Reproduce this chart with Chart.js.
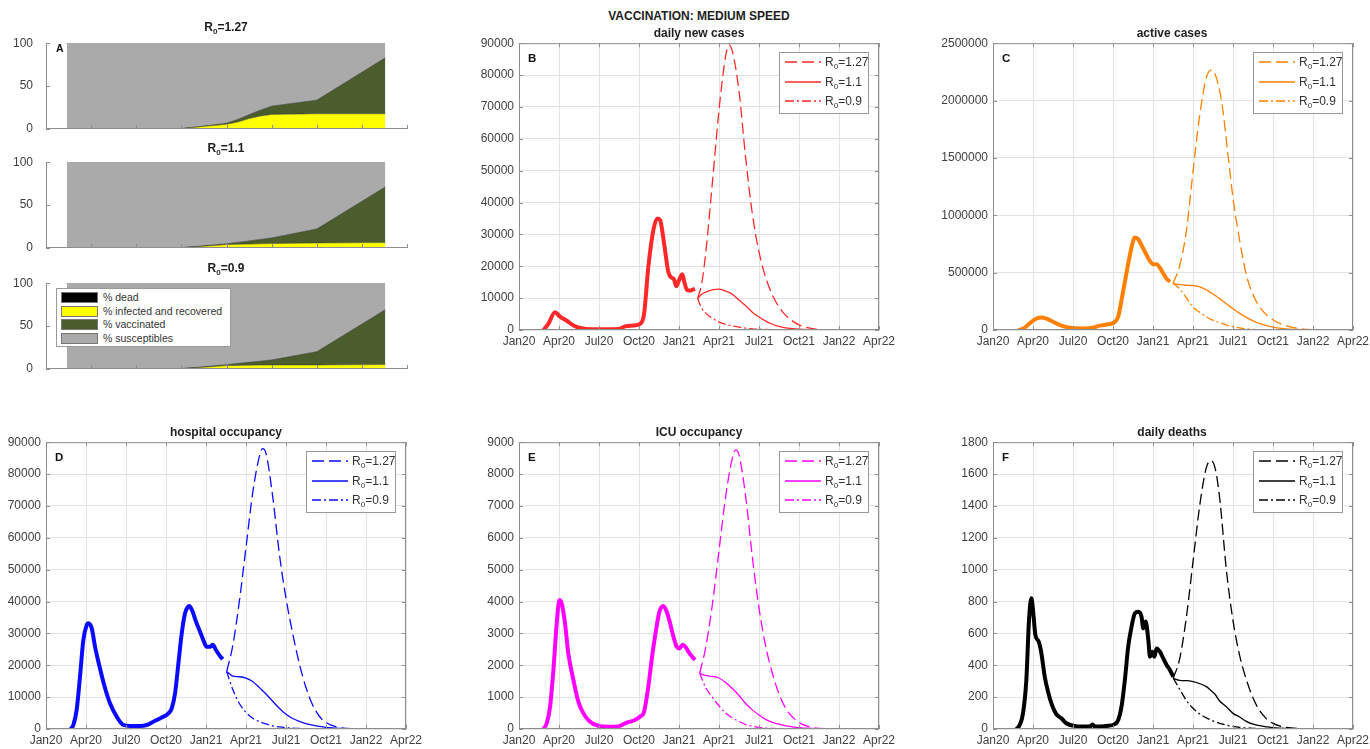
<!DOCTYPE html>
<html>
<head>
<meta charset="utf-8">
<title>Vaccination: medium speed</title>
<script src="https://cdn.jsdelivr.net/npm/chart.js@4.4.1/dist/chart.umd.min.js"></script>
<style>
  html, body { margin: 0; padding: 0; background: #fff; }
  #page { position: relative; width: 1370px; height: 749px; overflow: hidden;
          font-family: "Liberation Sans", Arial, sans-serif; color: #222; }
  canvas { position: absolute; }
  .ttl { position: absolute; transform: translateX(-50%); font-weight: bold; font-size: 12px;
         line-height: 14px; white-space: nowrap; color: #1e1e1e; }
  .tag { position: absolute; font-weight: bold; font-size: 11.5px; line-height: 12px; color: #111; }
  sub { font-size: 8px; vertical-align: -3px; line-height: 0; }
  .lgd { position: absolute; width: 88px; height: 60px; border: 1px solid #9a9a9a; background: #fff; }
  .lgd .row { position: absolute; left: 5px; height: 14px; display: flex; align-items: center;
              font-size: 12px; color: #333; white-space: nowrap; }
  .lgd svg { margin-right: 4px; }
  .alg { position: absolute; left: 56px; top: 288px; width: 173px; height: 57px;
         border: 1px solid #9a9a9a; background: #fff; }
  .alg .row { position: absolute; left: 4px; height: 12px; display: flex; align-items: center;
              font-size: 10.5px; color: #333; white-space: nowrap; }
  .alg .sw { width: 35px; height: 9px; border: 1px solid #777; margin-right: 5px; }
</style>
</head>
<body>
<div id="page"></div>
<script>
// ---- shared labels ----
const monthTicks = ['Jan20', 'Apr20', 'Jul20', 'Oct20', 'Jan21', 'Apr21', 'Jul21', 'Oct21', 'Jan22', 'Apr22'];
const r0Labels = ['1.27', '1.1', '0.9'];
const shareLabels = ['% dead', '% infected and recovered', '% vaccinated', '% susceptibles'];

// ---- A: population shares (%), x in plot units ----
const shareX = [0.46, 1, 2, 3, 3.5, 4, 4.25, 4.5, 4.75, 5, 6, 7.52];
const deadA1 = [0, 0.05, 0.1, 0.1, 0.1, 0.15, 0.15, 0.15, 0.2, 0.2, 0.2, 0.2];
const infA1  = [0, 0, 0.1, 0.3, 3, 5.3, 8, 12, 15, 16.8, 17.6, 17.6];
const vacA1  = [0, 0, 0, 0, 0.3, 1.2, 3, 4.6, 6.7, 9.6, 15.8, 65.2];
const susA1  = [100, 99.95, 99.8, 99.6, 96.6, 93.35, 88.85, 83.25, 78.1, 73.4, 66.4, 17.0];
const deadA2 = [0, 0.05, 0.1, 0.1, 0.1, 0.12, 0.12, 0.12, 0.13, 0.13, 0.14, 0.14];
const infA2  = [0, 0, 0.05, 0.2, 2, 3.9, 4.2, 4.5, 4.8, 5, 5.8, 6.2];
const vacA2  = [0, 0, 0, 0.2, 0.5, 0.8, 2.2, 3.6, 5.0, 6.6, 16.2, 64.8];
const susA2  = [100, 99.95, 99.85, 99.5, 97.4, 95.18, 93.48, 91.78, 90.07, 88.27, 77.86, 28.86];
const deadA3 = [0, 0.05, 0.1, 0.1, 0.1, 0.12, 0.12, 0.12, 0.12, 0.12, 0.12, 0.12];
const infA3  = [0, 0, 0.05, 0.2, 2, 3.9, 4.1, 4.3, 4.5, 4.6, 4.6, 5];
const vacA3  = [0, 0, 0, 0.2, 0.5, 1.0, 2.2, 3.35, 4.5, 5.8, 15.4, 64];
const susA3  = [100, 99.95, 99.85, 99.5, 97.4, 94.98, 93.58, 92.23, 90.88, 89.48, 79.88, 30.88];

// ---- B: daily new cases (x = months since Jan 2020) ----
const newHistX = [1.83, 2.2, 2.7, 3.07, 3.58, 4.08, 4.58, 5.58, 6.58, 7.58, 7.95, 8.58, 9.08, 9.38, 9.7, 10.08, 10.38, 10.58, 10.88, 11.2, 11.45, 11.6, 11.8, 12.0, 12.25, 12.4, 12.6, 12.8, 13.0, 13.2];
const newHistY = [0, 1900, 5600, 4200, 2900, 1400, 630, 200, 200, 400, 1150, 1400, 1900, 5000, 19800, 31400, 35000, 34500, 27200, 18200, 16400, 16100, 13700, 15600, 17500, 15000, 12600, 12400, 12600, 12900];
const newProjX = [13.4, 13.7, 14.0, 14.5, 15.0, 15.5, 15.75, 16.0, 16.5, 17.0, 17.5, 18.0, 18.5, 19.0, 19.5, 20.0, 21.0, 22.0, 23.0, 25.0];
const newR127 = [9900, 14500, 24000, 46000, 69000, 86000, 89500, 87500, 75000, 54000, 36500, 24500, 16500, 11000, 7200, 4600, 1600, 400, 100, 0];
const newR11  = [9900, 11200, 11900, 12600, 12800, 12200, 11800, 11200, 9400, 7600, 5600, 4100, 2800, 1800, 1100, 700, 250, 100, 50, 0];
const newR09  = [9900, 6800, 5300, 3700, 2500, 1800, 1500, 1250, 900, 600, 380, 250, 150, 100, 60, 40, 10, 0, 0, 0];

// ---- C: active cases ----
const actHistX = [1.88, 2.25, 2.75, 3.26, 3.63, 4.0, 4.5, 5.13, 5.76, 6.76, 7.5, 8.0, 8.64, 9.07, 9.39, 9.64, 10.0, 10.4, 10.64, 10.9, 11.14, 11.4, 11.72, 12.02, 12.27, 12.5, 12.77, 13.0, 13.27];
const actHistY = [0, 10000, 58000, 100000, 110000, 100000, 72000, 38000, 20000, 14000, 20000, 38000, 50000, 64000, 116000, 260000, 490000, 725000, 806000, 790000, 740000, 680000, 610000, 574000, 574000, 545000, 493000, 450000, 420000];
const actProjX = [13.5, 14.0, 14.5, 15.0, 15.5, 16.0, 16.4, 16.8, 17.2, 17.6, 18.0, 18.5, 19.0, 19.5, 20.0, 21.0, 22.0, 23.0, 24.9];
const actR127 = [406000, 560000, 860000, 1380000, 1870000, 2200000, 2268000, 2180000, 1950000, 1550000, 1150000, 780000, 480000, 310000, 200000, 90000, 35000, 12000, 0];
const actR11  = [406000, 395000, 390000, 388000, 375000, 350000, 320000, 290000, 255000, 220000, 185000, 145000, 110000, 80000, 55000, 25000, 10000, 4000, 0];
const actR09  = [406000, 360000, 280000, 200000, 155000, 115000, 90000, 72000, 55000, 40000, 29000, 18000, 10000, 6000, 3000, 0, 0, 0, 0];

// ---- D: hospital occupancy ----
const hospHistX = [1.85, 2.05, 2.3, 2.55, 2.8, 3.05, 3.18, 3.43, 3.68, 4.05, 4.43, 4.8, 5.3, 5.8, 6.3, 7.05, 7.55, 8.05, 8.68, 9.18, 9.43, 9.68, 9.93, 10.18, 10.43, 10.75, 11.0, 11.25, 11.55, 11.8, 12.05, 12.3, 12.5, 12.75, 13.0, 13.25];
const hospHistY = [0, 1250, 6000, 16400, 27900, 32600, 33200, 31600, 25800, 19000, 12800, 8100, 3900, 1250, 940, 940, 1250, 2300, 3600, 4900, 6500, 11200, 20600, 30000, 36300, 38600, 36800, 33700, 30600, 27900, 25800, 25800, 26400, 24800, 23200, 21900];
const occProjX = [13.55, 14.0, 14.5, 15.0, 15.5, 16.0, 16.25, 16.5, 17.0, 17.5, 18.0, 18.5, 19.0, 19.5, 20.0, 20.5, 21.0, 22.0, 23.0, 25.0];
const hospR127 = [18000, 26000, 40000, 57000, 74000, 85500, 88000, 86500, 73000, 55000, 41000, 30000, 20500, 13000, 7500, 4000, 2000, 500, 100, 0];
const hospR11  = [18000, 16600, 16400, 16000, 14900, 13000, 12000, 11000, 8700, 6500, 4600, 3300, 2400, 1700, 1200, 800, 500, 200, 80, 0];
const hospR09  = [18000, 12500, 8000, 5200, 3400, 2300, 1900, 1600, 1000, 650, 400, 250, 150, 80, 40, 20, 0, 0, 0, 0];

// ---- E: ICU occupancy ----
const icuHistX = [1.83, 2.08, 2.33, 2.58, 2.83, 3.03, 3.2, 3.45, 3.7, 4.08, 4.45, 4.83, 5.33, 5.95, 6.83, 7.58, 8.08, 8.7, 9.08, 9.38, 9.7, 9.95, 10.2, 10.53, 10.83, 11.08, 11.33, 11.58, 11.83, 12.03, 12.28, 12.48, 12.7, 12.95, 13.2];
const icuHistY = [0, 180, 700, 1850, 3320, 4050, 3940, 3320, 2370, 1540, 860, 490, 230, 100, 70, 100, 200, 280, 390, 540, 1330, 2170, 2900, 3680, 3860, 3680, 3320, 2900, 2580, 2530, 2640, 2580, 2430, 2290, 2170];
const icuR127 = [1750, 2550, 3900, 5600, 7300, 8500, 8760, 8600, 7300, 5400, 3800, 2600, 1750, 1100, 650, 380, 200, 50, 10, 0];
const icuR11  = [1750, 1680, 1650, 1600, 1460, 1270, 1170, 1050, 800, 600, 440, 300, 210, 150, 100, 70, 40, 15, 5, 0];
const icuR09  = [1750, 1300, 1000, 730, 500, 350, 290, 240, 140, 90, 50, 30, 15, 8, 4, 2, 0, 0, 0, 0];

// ---- F: daily deaths ----
const deathHistX = [1.75, 2.0, 2.25, 2.5, 2.7, 2.88, 3.0, 3.18, 3.43, 3.63, 3.88, 4.13, 4.38, 4.71, 5.13, 5.5, 6.0, 6.76, 7.26, 7.46, 7.64, 8.5, 9.14, 9.39, 9.64, 9.89, 10.14, 10.39, 10.64, 10.89, 11.14, 11.27, 11.45, 11.65, 11.77, 11.95, 12.1, 12.27, 12.52, 12.77, 13.02, 13.27, 13.52];
const deathHistY = [0, 25, 98, 307, 684, 820, 747, 590, 548, 475, 328, 234, 161, 98, 67, 36, 21, 15, 15, 29, 15, 19, 31, 56, 140, 307, 517, 642, 726, 736, 705, 632, 674, 559, 454, 485, 454, 506, 485, 443, 402, 370, 328];
const deathProjX = [13.52, 14.0, 14.5, 15.0, 15.5, 16.0, 16.33, 16.65, 17.0, 17.5, 18.0, 18.5, 19.0, 19.5, 20.0, 20.5, 21.0, 22.0, 23.0, 24.9];
const deathR127 = [318, 440, 700, 1050, 1400, 1640, 1685, 1640, 1450, 1000, 680, 460, 310, 195, 115, 65, 35, 10, 3, 0];
const deathR11  = [318, 305, 303, 297, 285, 266, 243, 218, 176, 140, 98, 75, 48, 30, 21, 14, 8, 3, 1, 0];
const deathR09  = [318, 250, 180, 130, 95, 70, 57, 46, 36, 24, 16, 10, 6, 4, 2, 1, 0, 0, 0, 0];

// ---- look ----
const GRID = '#e2e2e2';
const EDGE = '#8e8e8e';
const chartDash = [[11, 5], [], [8, 3, 2, 3]];
const legendDash = ['12,5', '', '9,3,2,3'];
const shareColors = ['#000000', '#ffff00', '#4b5d2c', '#aaaaaa'];
const PAD = { l: 80, t: 12, r: 30, b: 30 };

Chart.defaults.font.family = '"Liberation Sans", Arial, sans-serif';
Chart.defaults.font.size = 12;
Chart.defaults.color = '#404040';

const page = document.getElementById('page');

// inward tick marks + axes box, drawn over the data
const axesBox = {
  id: 'axesBox',
  afterDatasetsDraw(chart, args, opts) {
    const { ctx, chartArea: a } = chart;
    const x = chart.scales.x, y = chart.scales.y, len = 4;
    ctx.save();
    ctx.strokeStyle = EDGE;
    ctx.lineWidth = 1;
    ctx.beginPath();
    x.ticks.forEach(t => {
      const px = Math.round(x.getPixelForValue(t.value)) + 0.5;
      ctx.moveTo(px, a.bottom); ctx.lineTo(px, a.bottom - len);
      if (opts.full) { ctx.moveTo(px, a.top); ctx.lineTo(px, a.top + len); }
    });
    y.ticks.forEach(t => {
      const py = Math.round(y.getPixelForValue(t.value)) + 0.5;
      ctx.moveTo(a.left, py); ctx.lineTo(a.left + len, py);
      if (opts.full) { ctx.moveTo(a.right, py); ctx.lineTo(a.right - len, py); }
    });
    ctx.moveTo(a.left + 0.5, a.top); ctx.lineTo(a.left + 0.5, a.bottom);
    ctx.moveTo(a.left, a.bottom - 0.5); ctx.lineTo(a.right, a.bottom - 0.5);
    if (opts.full) {
      ctx.moveTo(a.left, a.top + 0.5); ctx.lineTo(a.right, a.top + 0.5);
      ctx.moveTo(a.right - 0.5, a.top); ctx.lineTo(a.right - 0.5, a.bottom);
    }
    ctx.stroke();
    ctx.restore();
  }
};
Chart.register(axesBox);

const pts = (xs, ys) => xs.map((x, i) => ({ x, y: ys[i] }));

function place(rect, config) {
  const cv = document.createElement('canvas');
  const w = rect.w + PAD.l + PAD.r, h = rect.h + PAD.t + PAD.b;
  cv.width = w; cv.height = h;
  cv.style.left = (rect.l - PAD.l) + 'px';
  cv.style.top = (rect.t - PAD.t) + 'px';
  cv.style.width = w + 'px';
  cv.style.height = h + 'px';
  page.appendChild(cv);
  config.options = Object.assign({
    responsive: false, animation: false, devicePixelRatio: 1, events: [],
    layout: { padding: { left: 0, top: PAD.t, right: PAD.r, bottom: 0 } }
  }, config.options);
  return new Chart(cv, config);
}

function text(cls, left, top, html) {
  const d = document.createElement('div');
  d.className = cls;
  d.style.left = left + 'px';
  d.style.top = top + 'px';
  d.innerHTML = html;
  page.appendChild(d);
}

// ---- panel A: three stacked area plots ----
function sharePlot(rect, dead, inf, vac, sus) {
  const layers = [dead, inf, vac, sus];
  place(rect, {
    type: 'line',
    data: {
      datasets: layers.map((ys, i) => ({
        label: shareLabels[i],
        data: pts(shareX, ys),
        backgroundColor: shareColors[i],
        borderColor: 'rgba(45,45,45,0.55)',
        borderWidth: 1,
        pointRadius: 0,
        tension: 0,
        fill: i === 0 ? 'origin' : '-1'
      }))
    },
    options: {
      plugins: { legend: { display: false }, tooltip: { enabled: false }, axesBox: { full: false } },
      scales: {
        x: { type: 'linear', min: 0, max: 8, ticks: { display: false, stepSize: 1 },
             grid: { display: false }, border: { display: false },
             afterFit: s => { s.height = PAD.b; } },
        y: { stacked: true, min: 0, max: 100,
             ticks: { stepSize: 50, padding: 5, callback: v => String(v) },
             grid: { display: false }, border: { display: false },
             afterFit: s => { s.width = PAD.l; } }
      }
    }
  });
}

sharePlot({ l: 46, t: 43, w: 361, h: 86 }, deadA1, infA1, vacA1, susA1);
sharePlot({ l: 46, t: 162, w: 361, h: 86 }, deadA2, infA2, vacA2, susA2);
sharePlot({ l: 46, t: 283, w: 361, h: 86 }, deadA3, infA3, vacA3, susA3);

text('ttl', 226, 20, 'R<sub>0</sub>=' + r0Labels[0]);
text('ttl', 226, 141, 'R<sub>0</sub>=' + r0Labels[1]);
text('ttl', 226, 261, 'R<sub>0</sub>=' + r0Labels[2]);
text('tag', 56, 42, '<span style="font-size:10.5px">A</span>');

// legend of the shares, inside the lowest plot
(function () {
  const box = document.createElement('div');
  box.className = 'alg';
  const tops = [2, 16, 29, 43];
  shareLabels.forEach((lab, i) => {
    const row = document.createElement('div');
    row.className = 'row';
    row.style.top = tops[i] + 'px';
    row.innerHTML = `<div class="sw" style="background:${shareColors[i]}"></div><span>${lab}</span>`;
    box.appendChild(row);
  });
  page.appendChild(box);
})();

// ---- panels B-F: observed curve plus three projections ----
function timePlot(rect, color, yMax, yStep, histX, histY, projX, scen) {
  const sets = [{
    data: pts(histX, histY), borderColor: color, borderWidth: 4,
    pointRadius: 0, fill: false, cubicInterpolationMode: 'monotone'
  }];
  scen.forEach((ys, i) => sets.push({
    data: pts(projX, ys), borderColor: color, borderWidth: 1.3, borderDash: chartDash[i],
    pointRadius: 0, fill: false, cubicInterpolationMode: 'monotone'
  }));
  place(rect, {
    type: 'line',
    data: { datasets: sets },
    options: {
      plugins: { legend: { display: false }, tooltip: { enabled: false }, axesBox: { full: true } },
      scales: {
        x: { type: 'linear', min: 0, max: 27,
             ticks: { stepSize: 3, autoSkip: false, maxRotation: 0, padding: 4,
                      callback: v => monthTicks[Math.round(v / 3)] },
             grid: { color: GRID, drawTicks: false }, border: { display: false },
             afterFit: s => { s.height = PAD.b; } },
        y: { min: 0, max: yMax,
             ticks: { stepSize: yStep, padding: 5, callback: v => String(v) },
             grid: { color: GRID, drawTicks: false }, border: { display: false },
             afterFit: s => { s.width = PAD.l; } }
      }
    }
  });

  // scenario legend, top right inside the axes
  const box = document.createElement('div');
  box.className = 'lgd';
  box.style.left = (rect.l + rect.w - 10 - 90) + 'px';
  box.style.top = (rect.t + 9) + 'px';
  const tops = [2, 22, 41];
  r0Labels.forEach((lab, i) => {
    const row = document.createElement('div');
    row.className = 'row';
    row.style.top = tops[i] + 'px';
    row.innerHTML = `<svg width="36" height="6"><line x1="0" y1="3" x2="36" y2="3" stroke="${color}" stroke-width="1.5" stroke-dasharray="${legendDash[i]}"/></svg><span>R<sub>0</sub>=${lab}</span>`;
    box.appendChild(row);
  });
  page.appendChild(box);
}

const rectB = { l: 519, t: 43, w: 360, h: 287 };
const rectC = { l: 993, t: 43, w: 360, h: 287 };
const rectD = { l: 46, t: 442, w: 360, h: 287 };
const rectE = { l: 519, t: 442, w: 360, h: 287 };
const rectF = { l: 993, t: 442, w: 360, h: 287 };

timePlot(rectB, '#ff2828', 90000, 10000, newHistX, newHistY, newProjX, [newR127, newR11, newR09]);
timePlot(rectC, '#ff8000', 2500000, 500000, actHistX, actHistY, actProjX, [actR127, actR11, actR09]);
timePlot(rectD, '#0a0aff', 90000, 10000, hospHistX, hospHistY, occProjX, [hospR127, hospR11, hospR09]);
timePlot(rectE, '#ff00ff', 9000, 1000, icuHistX, icuHistY, occProjX, [icuR127, icuR11, icuR09]);
timePlot(rectF, '#000000', 1800, 200, deathHistX, deathHistY, deathProjX, [deathR127, deathR11, deathR09]);

// titles and panel tags
text('ttl', 699, 9, 'VACCINATION: MEDIUM SPEED');
text('ttl', 699, 26, 'daily new cases');
text('ttl', 1172, 26, 'active cases');
text('ttl', 226, 425, 'hospital occupancy');
text('ttl', 699, 425, 'ICU occupancy');
text('ttl', 1172, 425, 'daily deaths');
[[rectB, 'B'], [rectC, 'C'], [rectD, 'D'], [rectE, 'E'], [rectF, 'F']].forEach(([r, t]) => {
  text('tag', r.l + 9, r.t + 9, t);
});
</script>
</body>
</html>
